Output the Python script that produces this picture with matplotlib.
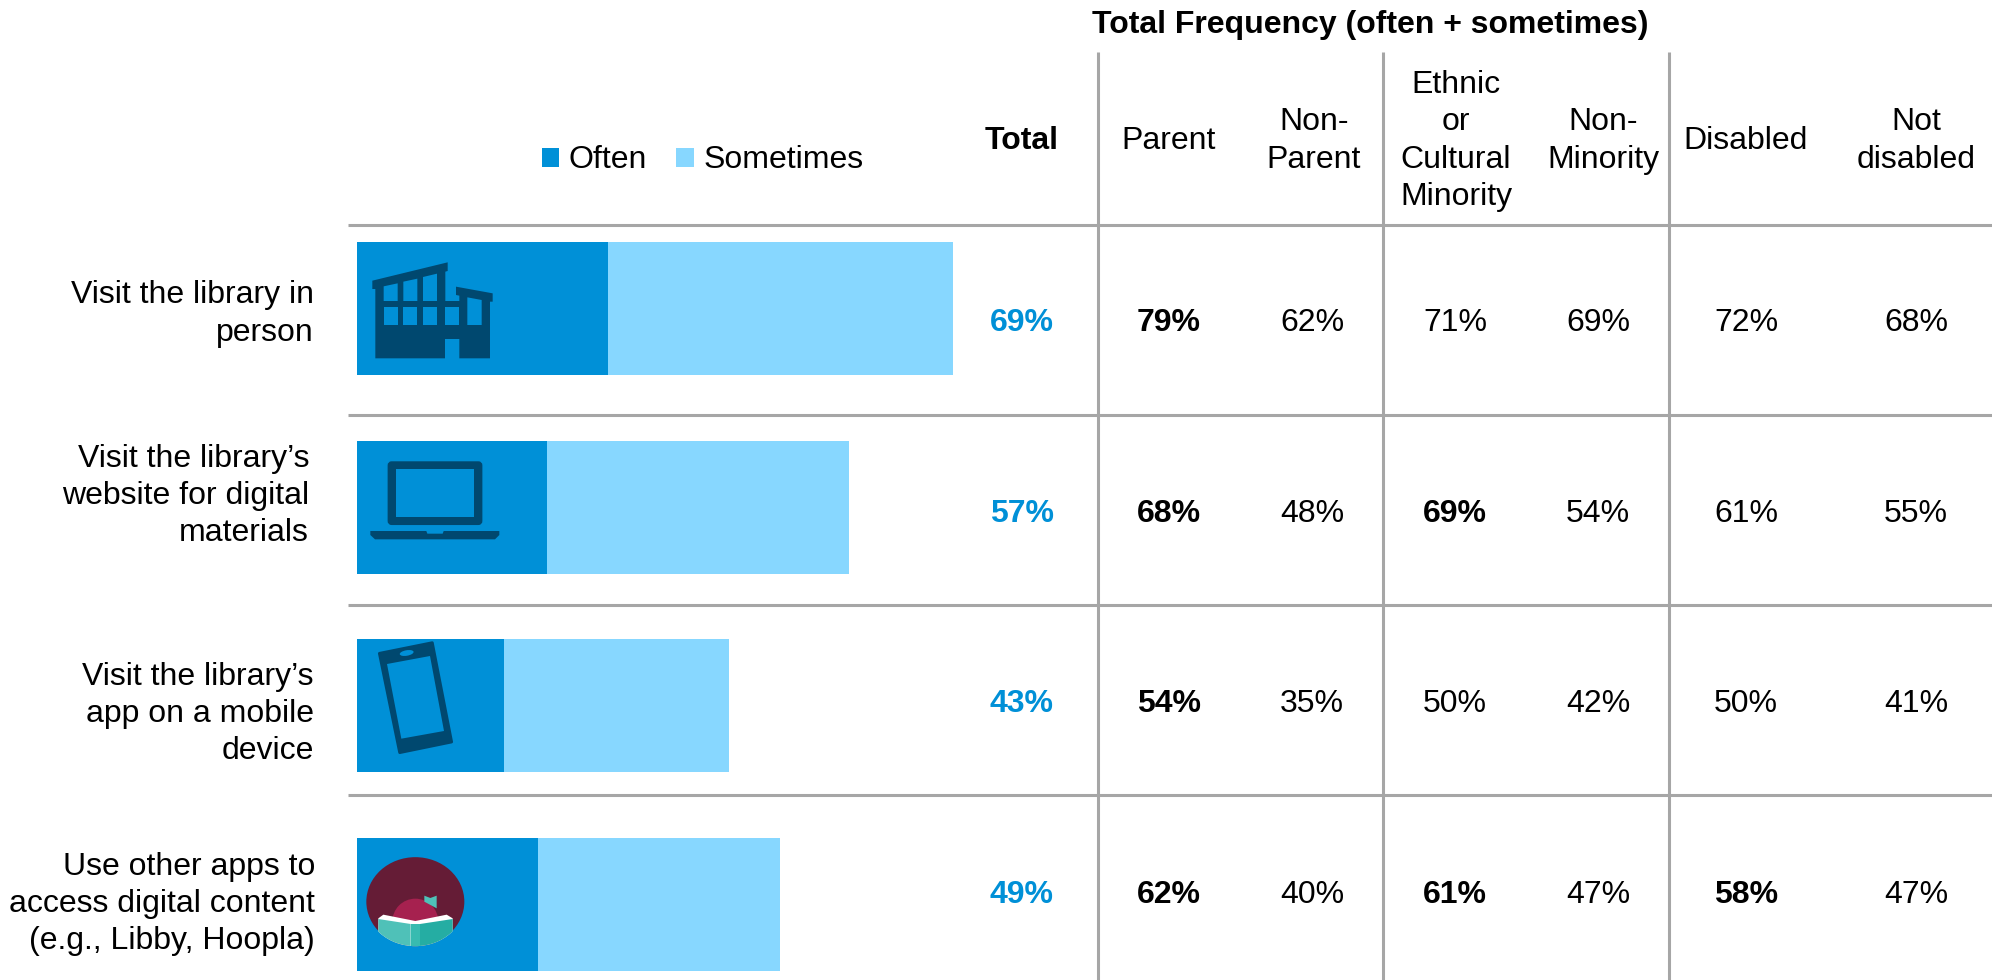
import matplotlib
matplotlib.use("Agg")
import matplotlib.pyplot as plt
from matplotlib.patches import Polygon, Ellipse, Circle, FancyBboxPatch

plt.rcParams["font.family"] = ["Liberation Sans", "DejaVu Sans"]

activities = [
    "Visit the library in\nperson",
    "Visit the library’s\nwebsite for digital\nmaterials",
    "Visit the library’s\napp on a mobile\ndevice",
    "Use other apps to\naccess digital content\n(e.g., Libby, Hoopla)",
]
often = [29, 22, 17, 21]
sometimes = [40, 35, 26, 28]
total = [69, 57, 43, 49]

columns = ["Parent", "Non-\nParent", "Ethnic\nor\nCultural\nMinority", "Non-\nMinority", "Disabled", "Not\ndisabled"]
parent = [79, 68, 54, 62]
non_parent = [62, 48, 35, 40]
minority = [71, 69, 50, 61]
non_minority = [69, 54, 42, 47]
disabled = [72, 61, 50, 58]
not_disabled = [68, 55, 41, 47]
group_values = [parent, non_parent, minority, non_minority, disabled, not_disabled]
# which cells are bold in the table, same order as group_values
group_bold = [
    [True, True, True, True],
    [False, False, False, False],
    [False, True, False, True],
    [False, False, False, False],
    [False, False, False, True],
    [False, False, False, False],
]

BLUE = "#0090D7"
LIGHT = "#87D7FF"
DARK = "#00486F"
GRID = "#A6A6A6"
FS = 23
LS = 1.31

W, H = 1992, 980
fig = plt.figure(figsize=(W / 100, H / 100), dpi=100)

# bars: 8.64 px per percent, rows 198.5 px apart
row0, row_step = 308.5, 198.5
bar_ax = fig.add_axes([357 / W, 0, 864 / W, 1])
ypos = list(range(len(activities)))
b1 = bar_ax.barh(ypos, often, height=133 / row_step, color=BLUE, label="Often")
b2 = bar_ax.barh(ypos, sometimes, left=often, height=133 / row_step, color=LIGHT, label="Sometimes")
bar_ax.set_xlim(0, 100)
bar_ax.set_ylim((H - row0) / row_step, -row0 / row_step)
bar_ax.axis("off")

# everything else in pixel coordinates of the figure
ax = fig.add_axes([0, 0, 1, 1], zorder=3)
ax.set_xlim(0, W)
ax.set_ylim(H, 0)
ax.axis("off")
ax.patch.set_alpha(0)

for y in [225, 415, 605, 795]:
    ax.plot([348, W], [y, y], color=GRID, lw=2.2, solid_capstyle="butt")
for x in [1097.5, 1383, 1669]:
    ax.plot([x, x], [52, H], color=GRID, lw=2.2, solid_capstyle="butt")

ax.text(1370, 25, "Total Frequency (often + sometimes)", fontsize=FS, fontweight="bold", ha="center", va="center")
ax.text(1022, 141, "Total", fontsize=FS, fontweight="bold", ha="center", va="center")

col_x = [1169, 1314, 1456, 1603, 1746, 1916]
val_x = [1169, 1312, 1455, 1598, 1746, 1916]
row_text_y = [323, 514, 704, 895]
label_y = [314, 496, 714, 904]
label_right = [314, 309, 314, 315]

for name, x in zip(columns, col_x):
    ax.text(x, 141, name, fontsize=FS, ha="center", va="center", linespacing=LS)

for i, label in enumerate(activities):
    ax.text(label_right[i], label_y[i], label, fontsize=FS, ha="right", va="center", linespacing=LS)
    ax.text(1022, row_text_y[i], f"{total[i]}%", fontsize=FS, fontweight="bold", color=BLUE, ha="center", va="center")
    for j, vals in enumerate(group_values):
        weight = "bold" if group_bold[j][i] else "normal"
        ax.text(val_x[j], row_text_y[i], f"{vals[i]}%", fontsize=FS, fontweight=weight, ha="center", va="center")

bar_ax.legend(
    handles=[b1, b2], loc="center", bbox_to_anchor=(702.5 / W, 1 - 160.5 / H), bbox_transform=fig.transFigure,
    ncol=2, frameon=False, fontsize=FS, handlelength=0.55, handleheight=0.55, handletextpad=0.3, columnspacing=0.9,
)


def zoom_xy(points, ox, oy):
    # icon outlines were measured on 3x crops
    return [(ox + px / 3, oy + py / 3) for px, py in points]


def shape(points, ox, oy, color, **kw):
    p = Polygon(zoom_xy(points, ox, oy), closed=True, facecolor=color, edgecolor="none", **kw)
    ax.add_patch(p)
    return p


# building icon
shape([(97, 182), (323, 127), (323, 153), (316, 155), (316, 243), (358, 243), (358, 227), (348, 225), (348, 200),
       (458, 220), (458, 245), (450, 245), (450, 415), (358, 415), (358, 357), (315, 357), (315, 415), (106, 415),
       (106, 207), (97, 207)], 340, 220, DARK)
for win in [
    [(131, 199), (173, 190), (173, 243), (131, 243)],
    [(190, 185), (232, 176), (232, 243), (190, 243)],
    [(249, 171), (291, 161), (291, 243), (249, 243)],
    [(131, 261), (173, 261), (173, 315), (131, 315)],
    [(190, 261), (232, 261), (232, 315), (190, 315)],
    [(249, 261), (291, 261), (291, 315), (249, 315)],
    [(316, 261), (358, 261), (358, 315), (316, 315)],
    [(382, 232), (425, 240), (425, 315), (382, 315)],
]:
    shape(win, 340, 220, BLUE)

# laptop icon
ax.add_patch(FancyBboxPatch((340 + 146 / 3, 220 + 727 / 3), 278 / 3, 185 / 3, boxstyle="round,pad=0,rounding_size=3",
                            facecolor=DARK, edgecolor=DARK, lw=1.5))
shape([(167, 748), (402, 748), (402, 891), (167, 891)], 340, 220, BLUE)
shape([(91, 933), (259, 933), (262, 941), (308, 941), (311, 933), (478, 933), (478, 945), (465, 958), (105, 958),
       (91, 945)], 340, 220, DARK)

# phone icon, edge gives the rounded corners
phone = Polygon(zoom_xy([(118, 100), (277, 68), (335, 366), (179, 398)], 340, 620), closed=True,
                facecolor=DARK, edgecolor=DARK, lw=2, joinstyle="round")
ax.add_patch(phone)
shape([(141, 132), (270, 108), (312, 333), (184, 356)], 340, 620, BLUE)
ax.add_patch(Ellipse((340 + 200 / 3, 620 + 99 / 3), 14, 5.5, angle=-10, facecolor=BLUE, edgecolor="none"))

# libby icon
cx, cy = 340 + 226 / 3, 620 + 845 / 3
ax.add_patch(Ellipse((cx, cy), 98, 89, facecolor="#651C36", edgecolor="none"))
ax.add_patch(Circle((cx, 620 + 905 / 3), 23, facecolor="#A6214F", edgecolor="none"))
shape([(253, 827), (271, 834), (290, 827), (290, 865), (253, 845)], 340, 620, "#4FC1B8")
for pts, col in [
    ([(115, 895), (130, 884), (226, 903), (320, 884), (338, 895), (338, 990), (115, 990)], "white"),
    ([(115, 897), (212, 912), (212, 990), (115, 990)], "#4FC1B8"),
    ([(212, 912), (240, 912), (240, 990), (212, 990)], "#38BBB0"),
    ([(240, 912), (338, 897), (338, 990), (240, 990)], "#25ADA3"),
]:
    p = shape(pts, 340, 620, col)
    p.set_clip_path(Ellipse((cx, cy), 100, 89, transform=ax.transData))

fig.savefig("out.png", dpi=100)
